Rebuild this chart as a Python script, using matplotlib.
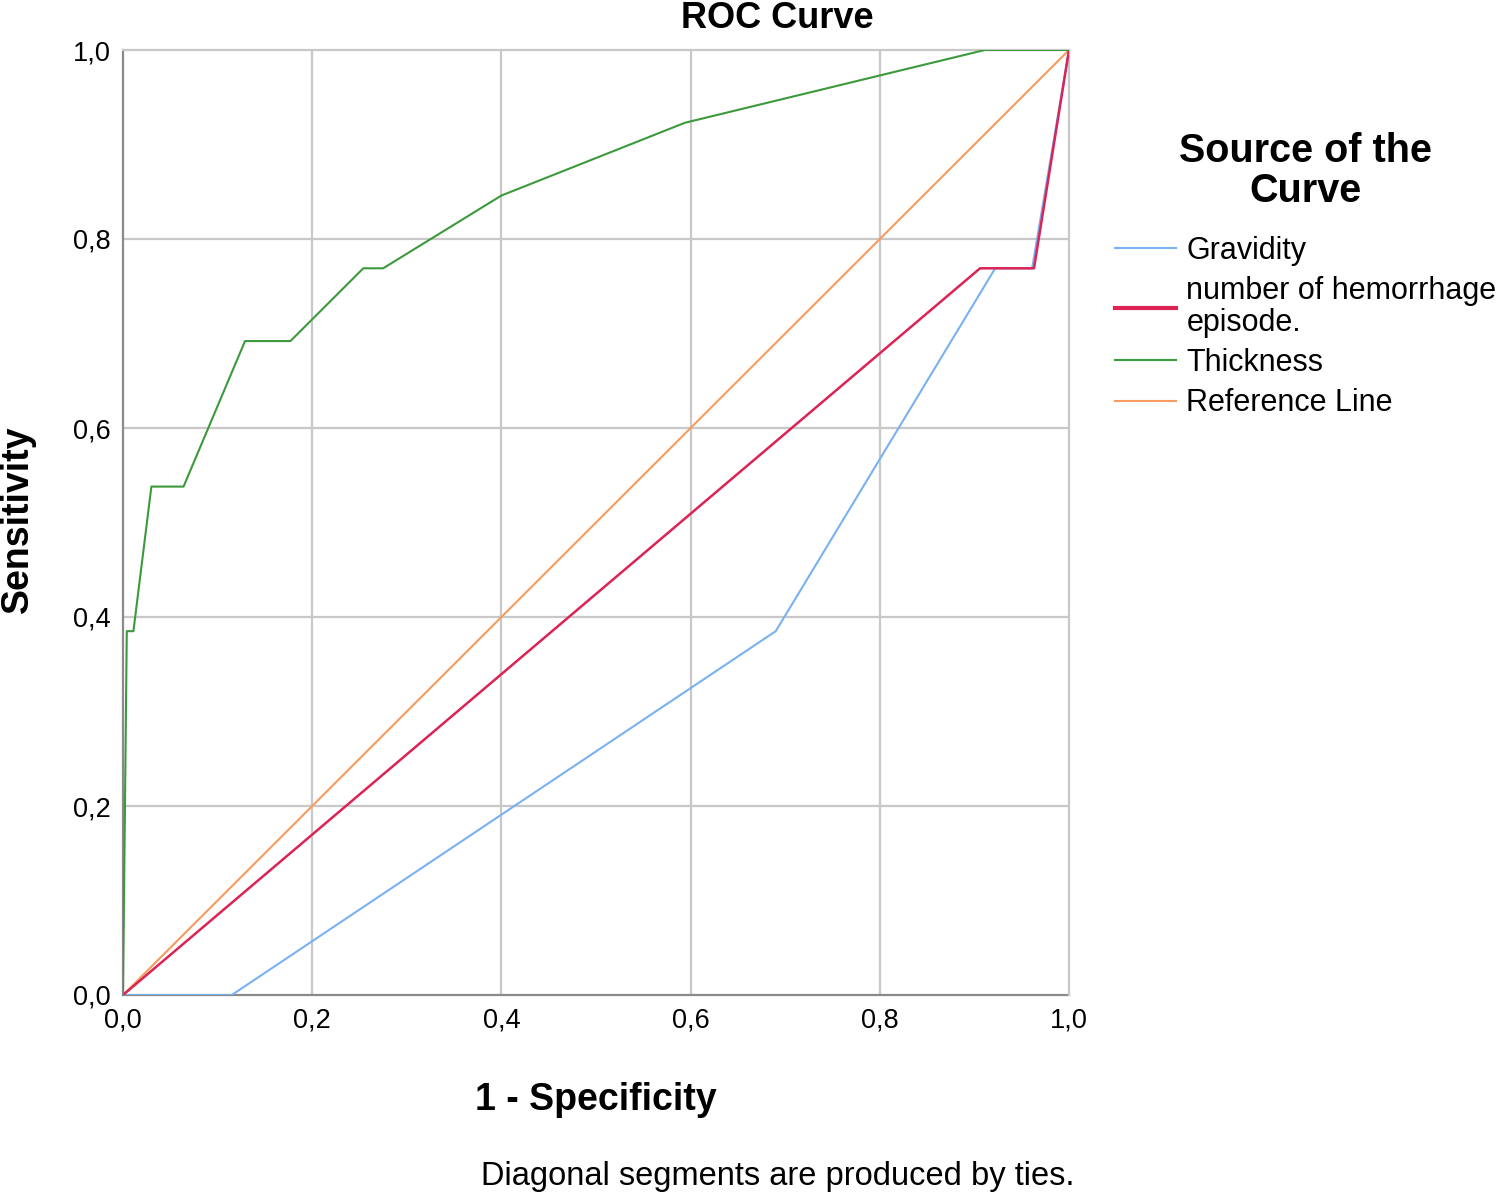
import numpy as np
import matplotlib
matplotlib.use('Agg')
import matplotlib.pyplot as plt

plt.rcParams['font.family'] = ['Liberation Sans', 'DejaVu Sans']

# ROC points (1 - specificity, sensitivity)
grav_x = [0.0, 0.115, 0.690, 0.922, 0.961, 1.0]
grav_y = [0.0, 0.0, 0.385, 0.769, 0.769, 1.0]

hem_x = [0.0, 0.906, 0.963, 1.0]
hem_y = [0.0, 0.769, 0.769, 1.0]

thick_x = [0.0, 0.004, 0.011, 0.030, 0.064, 0.129, 0.177, 0.254, 0.275,
           0.400, 0.594, 0.911, 1.0]
thick_y = [0.0, 0.385, 0.385, 0.538, 0.538, 0.692, 0.692, 0.769, 0.769,
           0.846, 0.923, 1.0, 1.0]

ref_x = [0.0, 1.0]
ref_y = [0.0, 1.0]

labels = ['Gravidity', 'number of hemorrhage\nepisode.', 'Thickness',
          'Reference Line']
colors = ['#79b1f1', '#dc2356', '#3c993c', '#f79b5e']

W, H = 1508, 1197
fig = plt.figure(figsize=(W / 100, H / 100), dpi=100)
ax = fig.add_axes([123 / W, 1 - 995 / H, (1069 - 123) / W, (995 - 50) / H])

lines = []
lines += ax.plot(grav_x, grav_y, color=colors[0], lw=1.5, zorder=4)
lines += ax.plot(hem_x, hem_y, color=colors[1], lw=1.8, zorder=4)
lines += ax.plot(thick_x, thick_y, color=colors[2], lw=1.5, zorder=4)
lines += ax.plot(ref_x, ref_y, color=colors[3], lw=1.5, zorder=3)

ax.set_xlim(0, 1)
ax.set_ylim(0, 1)
ticks = [0.0, 0.2, 0.4, 0.6, 0.8, 1.0]
ax.set_xticks(ticks)
ax.set_yticks(ticks)
ax.set_xticklabels([('%.1f' % t).replace('.', ',') for t in ticks])
ax.set_yticklabels([('%.1f' % t).replace('.', ',') for t in ticks])
ax.tick_params(length=0, labelsize=19.5, pad=9)
for t in [0.2, 0.4, 0.6, 0.8]:
    ax.axvline(t, color='#c8c8c8', lw=1.6, zorder=1)
    ax.axhline(t, color='#c8c8c8', lw=1.6, zorder=1)
for s in ['top', 'right']:
    ax.spines[s].set_color('#c8c8c8')
    ax.spines[s].set_linewidth(1.6)
for s in ['left', 'bottom']:
    ax.spines[s].set_color('#8a8a8a')
    ax.spines[s].set_linewidth(1.6)
    ax.spines[s].set_zorder(2)

fig.text(777 / W, 1 - 19 / H, 'ROC Curve', fontsize=26, fontweight='bold',
         ha='center', va='center')
fig.text(596 / W, 1 - 1100 / H, '1 - Specificity', fontsize=27,
         fontweight='bold', ha='center', va='center')
fig.text(18 / W, 1 - 519 / H, 'Sensitivity', fontsize=27, fontweight='bold',
         ha='center', va='center', rotation=90)
fig.text(778 / W, 1 - 1177 / H, 'Diagonal segments are produced by ties.',
         fontsize=23.5, ha='center', va='center')

leg = fig.legend(lines, labels, loc='upper left',
                 bbox_to_anchor=(1080 / W, 1 - 97 / H),
                 title='Source of the\nCurve', frameon=False,
                 fontsize=22, handlelength=2.0, handletextpad=0.33,
                 labelspacing=0.34, borderaxespad=0, borderpad=1.15,
                 alignment='center')
leg.get_title().set_fontsize(28.5)
leg.get_title().set_fontweight('bold')
leg.get_title().set_linespacing(1.05)
leg.get_title().set_multialignment('center')
leg.get_texts()[1].set_linespacing(1.05)
# wider gap between the title and the first entry (in points)
leg._legend_box.sep = 19
for h in leg.legend_handles:
    h.set_linewidth(1.5)
leg.legend_handles[1].set_linewidth(3)

fig.savefig('out.png', dpi=100)
